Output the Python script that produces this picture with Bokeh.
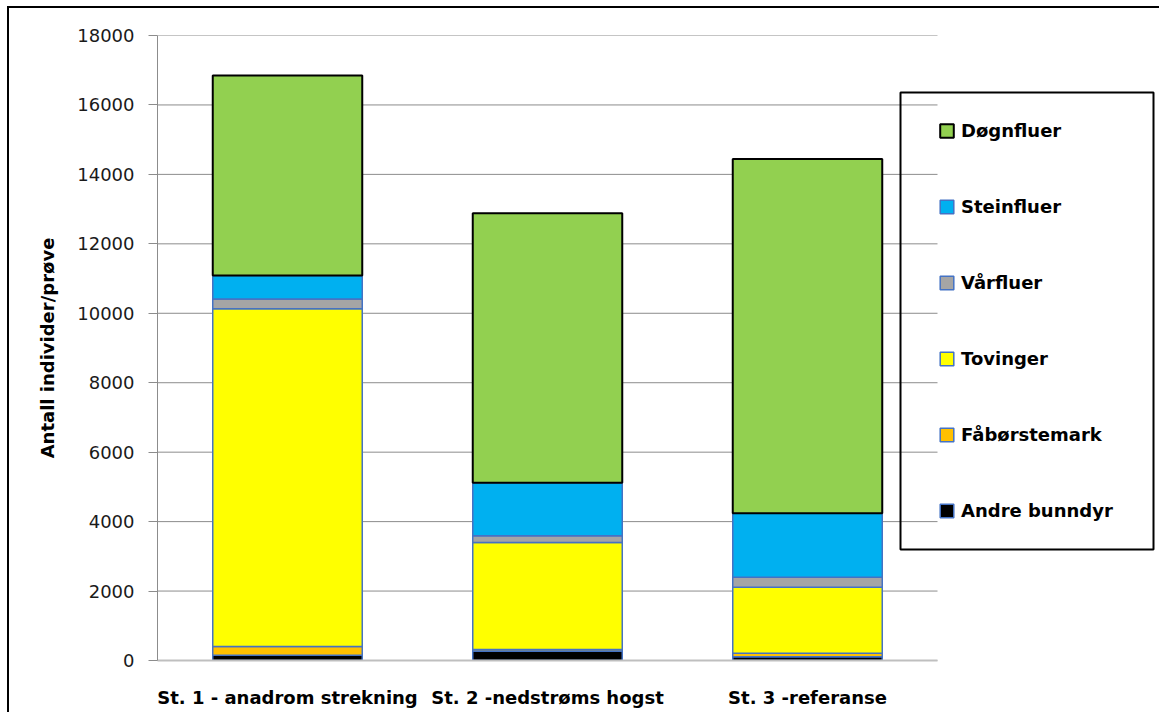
from bokeh.plotting import figure
from bokeh.models import (Range1d, FixedTicker, Legend, LegendItem,
                          BoxAnnotation, ColumnDataSource)
from bokeh.embed import file_html
from bokeh.resources import INLINE

# Stations and invertebrate groups (stack order: bottom to top)
stations = ["St. 1 - anadrom strekning", "St. 2 -nedstrøms hogst", "St. 3 -referanse"]
groups = ["Andre bunndyr", "Fåbørstemark", "Tovinger", "Vårfluer", "Steinfluer", "Døgnfluer"]

# Individuals per sample
andre_bunndyr = [150, 270, 110]
faborstemark = [250, 50, 100]
tovinger = [9730, 3080, 1900]
varfluer = [280, 190, 290]
steinfluer = [680, 1530, 1840]
dognfluer = [5760, 7760, 10200]

y_ticks = [0, 2000, 4000, 6000, 8000, 10000, 12000, 14000, 16000, 18000]

fill_colors = ["#000000", "#FFC000", "#FFFF00", "#A5A5A5", "#00B0F0", "#92D050"]
line_colors = ["#4472C4", "#4472C4", "#4472C4", "#4472C4", "#4472C4", "#000000"]
line_widths = [1.5, 1.5, 1.5, 1.5, 1.5, 2]

# Station slots on a numeric axis: slot i occupies [i, i+1]
x_pos = [i + 0.5 for i in range(len(stations))]
n_slots = len(stations)

source = ColumnDataSource(data={
    "x": x_pos,
    "Andre bunndyr": andre_bunndyr,
    "Fåbørstemark": faborstemark,
    "Tovinger": tovinger,
    "Vårfluer": varfluer,
    "Steinfluer": steinfluer,
    "Døgnfluer": dognfluer,
})

# Plot area runs on to the right edge so the legend can sit over it;
# bars/grid use the first three slots only (260 px each).
p = figure(
    width=1159, height=712,
    x_range=Range1d(0, 1002 / 260),
    y_range=Range1d(0, 18000),
    output_backend="svg", toolbar_location=None,
    min_border_left=157, min_border_right=0, min_border_top=35, min_border_bottom=52,
)
p.outline_line_color = None
p.background_fill_color = "white"
p.border_fill_color = None
p.styles = {
    "background": "linear-gradient(#000, #000) 7px 6px / 2px 100% no-repeat, "
                  "linear-gradient(#000, #000) 7px 6px / 100% 2px no-repeat, white",
}

# Horizontal gridlines across the bar area only
p.xgrid.grid_line_color = None
p.ygrid.grid_line_color = None
p.segment(x0=0, x1=n_slots, y0=y_ticks, y1=y_ticks, line_color="#8C8C8C", line_width=1)

renderers = p.vbar_stack(
    groups, x="x", width=0.575, source=source,
    fill_color=fill_colors, line_color=line_colors, line_width=line_widths,
)

# Y axis
p.yaxis.ticker = FixedTicker(ticks=y_ticks)
p.yaxis.axis_line_color = "#8C8C8C"
p.yaxis.major_tick_line_color = "#8C8C8C"
p.yaxis.major_tick_out = 9
p.yaxis.major_tick_in = 0
p.yaxis.minor_tick_line_color = None
p.yaxis.major_label_standoff = 14
p.yaxis.major_label_text_font = "DejaVu Sans"
p.yaxis.major_label_text_font_size = "18px"
p.yaxis.major_label_text_color = "#1a1a1a"
p.yaxis.axis_label = "Antall individer/prøve"
p.yaxis.axis_label_text_font = "DejaVu Sans"
p.yaxis.axis_label_text_font_style = "bold"
p.yaxis.axis_label_text_font_size = "18px"
p.yaxis.axis_label_text_color = "black"
p.yaxis.axis_label_standoff = 16

# X axis: one label per station
p.xaxis.ticker = FixedTicker(ticks=x_pos)
p.xaxis.major_label_overrides = {x: s for x, s in zip(x_pos, stations)}
p.xaxis.bounds = (0, n_slots)
p.xaxis.axis_line_color = "#BFBFBF"
p.xaxis.axis_line_width = 2
p.xaxis.major_tick_line_color = None
p.xaxis.minor_tick_line_color = None
p.xaxis.major_label_standoff = 20
p.xaxis.major_label_text_font = "DejaVu Sans"
p.xaxis.major_label_text_font_style = "bold"
p.xaxis.major_label_text_font_size = "18px"
p.xaxis.major_label_text_color = "black"

# Legend (top group first)
items = [LegendItem(label=g, renderers=[r]) for g, r in zip(groups, renderers)][::-1]
legend = Legend(
    items=items, location=(781, 139.5), orientation="vertical",
    glyph_width=17, glyph_height=17, label_height=17, label_width=10,
    spacing=55, label_standoff=6, padding=0, margin=0,
    border_line_alpha=0, background_fill_alpha=0,
    label_text_font="DejaVu Sans", label_text_font_style="bold",
    label_text_font_size="18px", label_text_color="black",
)
p.add_layout(legend)

# Legend frame
p.add_layout(BoxAnnotation(
    left=900, right=1153, top=92, bottom=549,
    left_units="canvas", right_units="canvas", top_units="canvas", bottom_units="canvas",
    fill_alpha=0, line_color="black", line_alpha=1, line_width=2, level="overlay",
))

open("out.html", "w").write(file_html(p, INLINE))
